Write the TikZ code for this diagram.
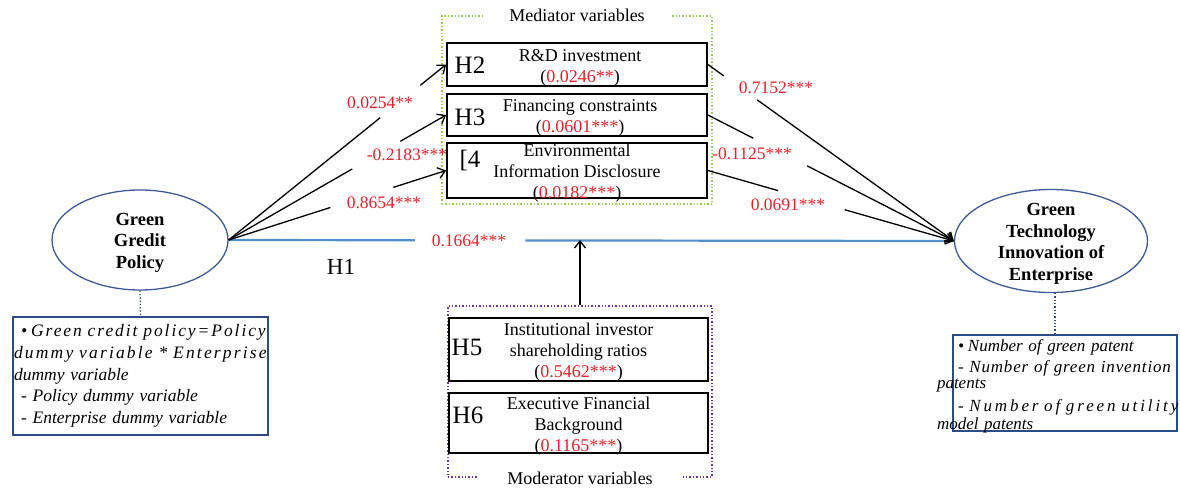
\documentclass[tikz,border=0pt]{standalone}
\usepackage{fontspec}
\setmainfont{Liberation Serif}
\usetikzlibrary{shapes.geometric,arrows.meta,calc}
\definecolor{ellblue}{RGB}{60,90,150}
\definecolor{boxblue}{RGB}{45,75,135}
\definecolor{linkblue}{RGB}{80,145,205}
\definecolor{numred}{RGB}{235,30,40}
\definecolor{medgreen}{RGB}{155,200,80}
\definecolor{modpurple}{RGB}{112,48,160}
\newcommand{\lsp}[2]{{\addfontfeatures{LetterSpace=#1}#2}}
\begin{document}
\begin{tikzpicture}[x=1pt,y=-1pt,
  txt/.style={font=\fontsize{18}{21}\selectfont},
  ell/.style={ellipse,draw=ellblue,line width=1.3pt,inner sep=0pt},
  elltxt/.style={inner sep=0pt,align=center,font=\fontsize{18.5}{21.5}\selectfont\bfseries},
  hbox/.style={rectangle,draw=black,line width=1.8pt,minimum width=260pt,inner sep=0pt},
  htxt/.style={inner sep=0pt,align=center,font=\fontsize{18}{21}\selectfont},
  hlab/.style={inner sep=0pt,font=\fontsize{25}{25}\selectfont},
  num/.style={inner sep=0pt,text=numred,font=\fontsize{17.5}{21}\selectfont},
  sidebox/.style={rectangle,draw=boxblue,line width=1.3pt,inner sep=0pt},
  sidetxt/.style={inner sep=0pt,align=left,font=\fontsize{17.5}{21.7}\selectfont\itshape},
  frame/.style={rectangle,dotted,line width=1.4pt,inner sep=0pt},
  arr/.style={-{Straight Barb[length=7pt,width=11pt]},line width=1.3pt},
  gapline/.style={white,line width=5pt},
  link/.style={draw=linkblue,line width=2.2pt},
  dots/.style={draw=boxblue,dotted,line width=1.3pt}]
\useasboundingbox (0,0) rectangle (1180,487);

% frames
\node[frame,draw=medgreen,minimum width=270pt,minimum height=188pt] (med) at (577,110) {};
\node[txt,fill=white,inner xsep=26pt,inner ysep=1pt] (medlab) at (med.north) {Mediator variables};
\node[frame,draw=modpurple,minimum width=264pt,minimum height=171pt] (mod) at (580,391.5) {};
\node[txt,fill=white,inner xsep=29pt,inner ysep=1pt] (modlab) at ([yshift=-0.5pt]mod.south) {Moderator variables};

% ellipses
\node[ell,minimum width=176pt,minimum height=100pt] (gcp) at (140,240) {};
\node[elltxt] (gcpt) at ([yshift=-2.5pt]gcp.center) {Green\\Gredit\\Policy};
\node[ell,minimum width=193pt,minimum height=103pt] (gti) at (1051,241) {};
\node[elltxt] (gtit) at ([yshift=-3pt]gti.center) {Green\\Technology\\Innovation of\\Enterprise};

% side boxes
\node[sidebox,minimum width=255pt,minimum height=118pt] (lbox) at (140.5,376) {};
\node[sidetxt,text width=253pt] (lboxt) at (lbox.center) {%
\hspace*{7pt}•\hspace*{4pt}\lsp{11}{Green credit policy=Policy}\\
\lsp{12.5}{dummy variable * Enterprise}\\
dummy variable\\
\hspace*{7pt}- Policy dummy variable\\
\hspace*{7pt}- Enterprise dummy variable};
\node[sidebox,minimum width=224pt,minimum height=96pt] (rbox) at (1065,383) {};
\node[sidetxt,text width=222pt,font=\fontsize{17}{21}\selectfont\itshape] (rboxt) at ([yshift=-3.5pt]rbox.center) {%
\hspace*{4pt}•\hspace*{4pt}Number of green patent\\
\hspace*{4pt}\lsp{5}{- Number of green invention}\\[-5pt]
\hspace*{-17pt}patents\\[2pt]
\hspace*{4pt}\lsp{17}{- Number of green utility}\\[-3pt]
\hspace*{-17pt}model patents};

% hypothesis boxes
\node[hbox,minimum height=43pt] (h2) at (577,64.5) {};
\node[hbox,minimum height=42pt] (h3) at (577,115) {};
\node[hbox,minimum height=55pt] (h4) at (577,170.5) {};
\node[hbox,minimum width=259pt,minimum height=63pt] (h5) at (578.5,349.5) {};
\node[hbox,minimum width=259pt,minimum height=60pt] (h6) at (578.5,423) {};
\node[htxt] (h2t) at ([xshift=3pt,yshift=-3pt]h2.center) {R\&D investment\\(\textcolor{numred}{0.0246**})};
\node[htxt] (h3t) at ([xshift=3pt,yshift=-3pt]h3.center) {Financing constraints\\(\textcolor{numred}{0.0601***})};
\node[htxt] (h4t) at ([yshift=-3pt]h4.center) {Environmental\\Information Disclosure\\(\textcolor{numred}{0.0182***})};
\node[htxt] (h5t) at ([yshift=-3pt]h5.center) {Institutional investor\\shareholding ratios\\(\textcolor{numred}{0.5462***})};
\node[htxt] (h6t) at ([yshift=-3pt]h6.center) {Executive Financial\\Background\\(\textcolor{numred}{0.1165***})};
\node[hlab] (h2l) at (470,65) {H2};
\node[hlab] (h3l) at (470,117) {H3};
\node[hlab] (h4l) at (470,160) {[4};
\node[hlab] (h5l) at (467,347) {H5};
\node[hlab] (h6l) at (468,415) {H6};

% connectors
\draw[dots] (gcp.south) -- (lbox.north);
\draw[dots] ([xshift=4pt]gti.south) -- ([xshift=4pt]gti.south |- rbox.north);

\coordinate (hit) at (580,240);
\draw[link] (gcp.east) -- (gti.west);
\draw[gapline,line width=6pt] ($(gcp.east)!0.257!(gti.west)$) -- ($(gcp.east)!0.409!(gti.west)$);
\draw[arr] (mod.north) -- (hit);

\draw[arr] (gcp.east) -- (h2.west);
\draw[arr] (gcp.east) -- (h3.west);
\draw[arr] (gcp.east) -- (h4.west);
\draw[arr] (h2.east) -- (gti.west);
\draw[arr] (h3.east) -- (gti.west);
\draw[arr] (h4.east) -- (gti.west);

\draw[gapline] ($(gcp.east)!0.697!(h2.west)$) -- ($(gcp.east)!0.881!(h2.west)$);
\draw[gapline] ($(gcp.east)!0.569!(h3.west)$) -- ($(gcp.east)!0.789!(h3.west)$);
\draw[gapline] ($(gcp.east)!0.468!(h4.west)$) -- ($(gcp.east)!0.757!(h4.west)$);
\draw[gapline] ($(h2.east)!0.065!(gti.west)$) -- ($(h2.east)!0.2!(gti.west)$);
\draw[gapline] ($(h3.east)!0.185!(gti.west)$) -- ($(h3.east)!0.403!(gti.west)$);
\draw[gapline] ($(h4.east)!0.286!(gti.west)$) -- ($(h4.east)!0.556!(gti.west)$);

% labels
\node[num] (l1) at (380,103) {0.0254**};
\node[num] (l2) at (407,155) {-0.2183***};
\node[num] (l3) at (384,203) {0.8654***};
\node[num] (r1) at (776,88) {0.7152***};
\node[num] (r2) at (752,154) {-0.1125***};
\node[num] (r3) at (788,205) {0.0691***};
\node[num] (l0) at (469,241) {0.1664***};
\node[hlab,font=\fontsize{23}{23}\selectfont] (h1l) at (341,267) {H1};
\end{tikzpicture}
\end{document}
